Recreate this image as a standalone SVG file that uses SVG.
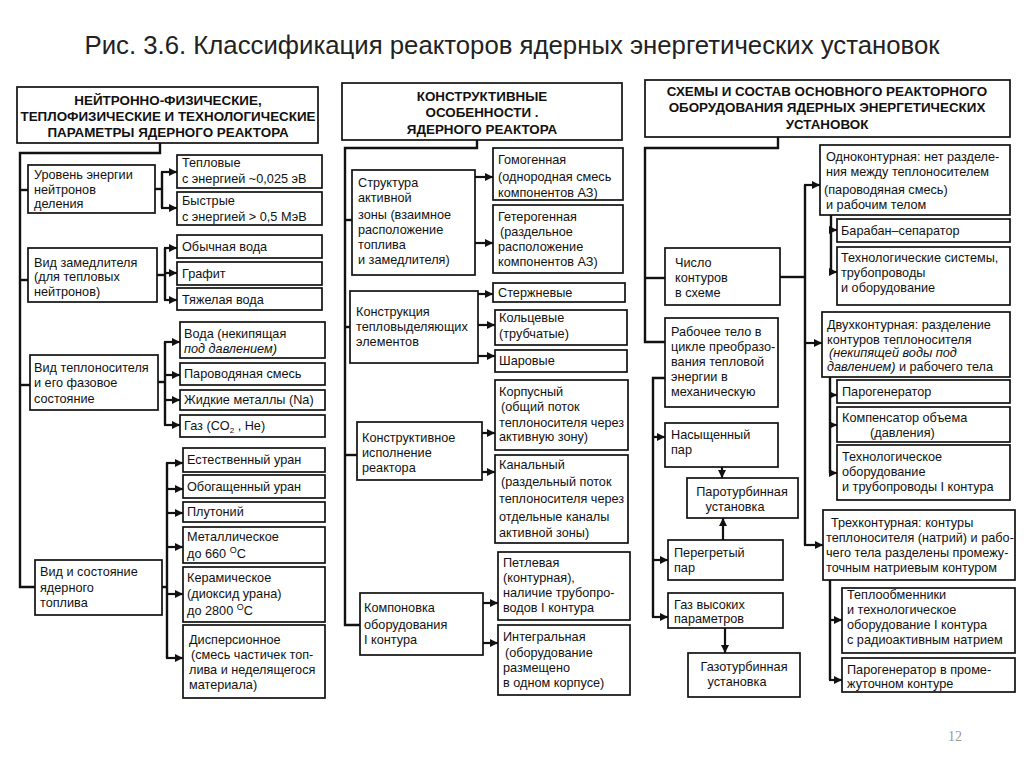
<svg xmlns="http://www.w3.org/2000/svg" width="1024" height="767" viewBox="0 0 1024 767">
<defs>
<marker id="ar" markerUnits="userSpaceOnUse" markerWidth="9" markerHeight="8" refX="8" refY="4" orient="auto">
<path d="M0,0 L8,4 L0,8 z" fill="#111"/>
</marker>
<style>
.b{fill:#fff;stroke:#111;stroke-width:1.7}
.t{font-family:"Liberation Sans",Arial,sans-serif;font-size:12.7px;fill:#111}
.h{font-family:"Liberation Sans",Arial,sans-serif;font-size:13.4px;font-weight:bold;fill:#111;text-anchor:middle}
.c{fill:none;stroke:#111;stroke-width:2.4}
.a{fill:none;stroke:#111;stroke-width:2.2;marker-end:url(#ar)}
.m{text-anchor:middle}
</style>
</defs>
<rect width="1024" height="767" fill="#fff"/>
<text x="512" y="54" text-anchor="middle" font-family="'Liberation Sans',Arial,sans-serif" font-size="25" fill="#222" textLength="855" lengthAdjust="spacingAndGlyphs">Рис. 3.6. Классификация реакторов ядерных энергетических установок</text>
<text x="948" y="741" font-family="'Liberation Serif',serif" font-size="14" fill="#999">12</text>

<g id="connectors">
<polyline class="c" points="160,143 160,153 20,153 20,587 35,587"/>
<line class="c" x1="20" y1="190" x2="28" y2="190"/>
<line class="c" x1="20" y1="280" x2="28" y2="280"/>
<line class="c" x1="20" y1="385" x2="30" y2="385"/>
<polyline class="c" points="155,189 162,189"/>
<line class="c" x1="162" y1="172" x2="162" y2="208"/>
<line class="a" x1="161" y1="172" x2="177" y2="172"/>
<line class="a" x1="161" y1="208" x2="177" y2="208"/>
<line class="c" x1="157" y1="275" x2="165" y2="275"/>
<line class="c" x1="165" y1="248" x2="165" y2="300"/>
<line class="a" x1="164" y1="248" x2="177" y2="248"/>
<line class="a" x1="164" y1="273" x2="177" y2="273"/>
<line class="a" x1="164" y1="300" x2="177" y2="300"/>
<line class="c" x1="158" y1="382" x2="165" y2="382"/>
<line class="c" x1="165" y1="342" x2="165" y2="425"/>
<line class="a" x1="164" y1="342" x2="180" y2="342"/>
<line class="a" x1="164" y1="375" x2="180" y2="375"/>
<line class="a" x1="164" y1="400" x2="180" y2="400"/>
<line class="a" x1="164" y1="425" x2="180" y2="425"/>
<line class="c" x1="162" y1="587" x2="167" y2="587"/>
<line class="c" x1="167" y1="463" x2="167" y2="658"/>
<line class="a" x1="166" y1="463" x2="183" y2="463"/>
<line class="a" x1="166" y1="489" x2="183" y2="489"/>
<line class="a" x1="166" y1="513" x2="183" y2="513"/>
<line class="a" x1="166" y1="547" x2="183" y2="547"/>
<line class="a" x1="166" y1="594" x2="183" y2="594"/>
<line class="a" x1="166" y1="658" x2="183" y2="658"/>

<polyline class="c" points="477,140 477,148 345,148 345,625 360,625"/>
<line class="c" x1="345" y1="220" x2="352" y2="220"/>
<line class="c" x1="345" y1="327" x2="350" y2="327"/>
<line class="c" x1="345" y1="455" x2="357" y2="455"/>
<line class="a" x1="475" y1="177" x2="493" y2="177"/>
<line class="a" x1="475" y1="243" x2="493" y2="243"/>
<line class="a" x1="478" y1="294" x2="493" y2="294"/>
<line class="a" x1="478" y1="325" x2="495" y2="325"/>
<line class="a" x1="478" y1="356" x2="495" y2="356"/>
<line class="a" x1="482" y1="433" x2="495" y2="433"/>
<line class="a" x1="482" y1="472" x2="495" y2="472"/>
<line class="a" x1="483" y1="603" x2="498" y2="603"/>
<line class="a" x1="483" y1="643" x2="498" y2="643"/>

<polyline class="c" points="778,137 778,148 645,148 645,342 665,342"/>
<line class="c" x1="645" y1="278" x2="665" y2="278"/>
<line class="c" x1="780" y1="277" x2="805" y2="277"/>
<line class="c" x1="805" y1="185" x2="805" y2="545"/>
<line class="a" x1="804" y1="185" x2="820" y2="185"/>
<line class="a" x1="804" y1="343" x2="822" y2="343"/>
<line class="a" x1="804" y1="545" x2="823" y2="545"/>
<line class="c" x1="831" y1="215" x2="831" y2="272"/>
<line class="a" x1="830" y1="230" x2="837" y2="230"/>
<line class="a" x1="830" y1="272" x2="837" y2="272"/>
<line class="c" x1="830" y1="377" x2="830" y2="473"/>
<line class="a" x1="829" y1="395" x2="837" y2="395"/>
<line class="a" x1="829" y1="425" x2="837" y2="425"/>
<line class="a" x1="829" y1="473" x2="837" y2="473"/>
<line class="c" x1="830" y1="580" x2="830" y2="680"/>
<line class="a" x1="829" y1="620" x2="842" y2="620"/>
<line class="a" x1="829" y1="680" x2="842" y2="680"/>
<polyline class="c" points="665,378 653,378 653,617"/>
<line class="a" x1="652" y1="437" x2="665" y2="437"/>
<line class="a" x1="652" y1="560" x2="668" y2="560"/>
<line class="a" x1="652" y1="617" x2="668" y2="617"/>
<line class="a" x1="722" y1="467" x2="722" y2="478"/>
<line class="a" x1="723" y1="540" x2="723" y2="518"/>
<line class="a" x1="725" y1="628" x2="725" y2="653"/>
</g>

<g id="hdr-left"><rect class="b" x="17" y="87" width="301" height="56"/>
<text class="h" x="168" y="105">НЕЙТРОННО-ФИЗИЧЕСКИЕ,</text>
<text class="h" x="168" y="121">ТЕПЛОФИЗИЧЕСКИЕ И ТЕХНОЛОГИЧЕСКИЕ</text>
<text class="h" x="168" y="137">ПАРАМЕТРЫ ЯДЕРНОГО РЕАКТОРА</text></g>

<g id="l1"><rect class="b" x="28" y="165" width="127" height="48"/>
<text class="t" x="34" y="179">Уровень энергии</text><text class="t" x="34" y="194">нейтронов</text><text class="t" x="34" y="208">деления</text></g>
<g id="l1a"><rect class="b" x="177" y="155" width="145" height="33"/>
<text class="t" x="182" y="167">Тепловые</text><text class="t" x="182" y="183">с энергией ~0,025 эВ</text></g>
<g id="l1b"><rect class="b" x="177" y="192" width="145" height="33"/>
<text class="t" x="182" y="205">Быстрые</text><text class="t" x="182" y="221">с энергией &gt; 0,5 МэВ</text></g>

<g id="l2"><rect class="b" x="28" y="248" width="129" height="54"/>
<text class="t" x="34" y="267">Вид замедлителя</text><text class="t" x="34" y="281">(для тепловых</text><text class="t" x="34" y="296">нейтронов)</text></g>
<g id="l2a"><rect class="b" x="177" y="235" width="145" height="23"/><text class="t" x="182" y="251">Обычная вода</text></g>
<g id="l2b"><rect class="b" x="177" y="262" width="145" height="23"/><text class="t" x="182" y="278">Графит</text></g>
<g id="l2c"><rect class="b" x="177" y="288" width="145" height="22"/><text class="t" x="182" y="304">Тяжелая вода</text></g>

<g id="l3"><rect class="b" x="30" y="355" width="128" height="55"/>
<text class="t" x="34" y="372">Вид теплоносителя</text><text class="t" x="34" y="387">и его фазовое</text><text class="t" x="34" y="403">состояние</text></g>
<g id="l3a"><rect class="b" x="180" y="322" width="145" height="36"/>
<text class="t" x="184" y="338">Вода  (некипящая</text><text class="t" x="184" y="353" font-style="italic">под давлением)</text></g>
<g id="l3b"><rect class="b" x="180" y="363" width="145" height="22"/><text class="t" x="184" y="378">Пароводяная смесь</text></g>
<g id="l3c"><rect class="b" x="180" y="390" width="145" height="20"/><text class="t" x="184" y="404">Жидкие металлы  (Na)</text></g>
<g id="l3d"><rect class="b" x="180" y="415" width="145" height="22"/><text class="t" x="184" y="430">Газ  (CO<tspan font-size="8" dy="3">2</tspan><tspan dy="-3"> , He)</tspan></text></g>

<g id="l4"><rect class="b" x="35" y="560" width="127" height="55"/>
<text class="t" x="40" y="576">Вид и состояние</text><text class="t" x="40" y="592">ядерного</text><text class="t" x="40" y="607">топлива</text></g>
<g id="l4a"><rect class="b" x="183" y="448" width="142" height="24"/><text class="t" x="187" y="464">Естественный уран</text></g>
<g id="l4b"><rect class="b" x="183" y="475" width="142" height="23"/><text class="t" x="187" y="491">Обогащенный уран</text></g>
<g id="l4c"><rect class="b" x="183" y="502" width="142" height="20"/><text class="t" x="187" y="516">Плутоний</text></g>
<g id="l4d"><rect class="b" x="183" y="527" width="142" height="36"/>
<text class="t" x="187" y="541">Металлическое</text><text class="t" x="187" y="558">до 660 <tspan font-size="9" dy="-5">O</tspan><tspan dy="5">C</tspan></text></g>
<g id="l4e"><rect class="b" x="183" y="567" width="142" height="55"/>
<text class="t" x="187" y="582">Керамическое</text><text class="t" x="187" y="598">(диоксид урана)</text><text class="t" x="187" y="615">до 2800 <tspan font-size="9" dy="-5">O</tspan><tspan dy="5">C</tspan></text></g>
<g id="l4f"><rect class="b" x="183" y="625" width="142" height="73"/>
<text class="t" x="189" y="644">Дисперсионное</text><text class="t" x="191" y="659">(смесь частичек топ-</text><text class="t" x="189" y="674">лива и неделящегося</text><text class="t" x="189" y="689">материала)</text></g>

<g id="hdr-mid"><rect class="b" x="342" y="83" width="280" height="57"/>
<text class="h" x="482" y="101">КОНСТРУКТИВНЫЕ</text>
<text class="h" x="482" y="117">ОСОБЕННОСТИ .</text>
<text class="h" x="482" y="134">ЯДЕРНОГО РЕАКТОРА</text></g>

<g id="m1"><rect class="b" x="352" y="170" width="123" height="105"/>
<text class="t" x="358" y="187">Структура</text><text class="t" x="358" y="202">активной</text><text class="t" x="358" y="219">зоны  (взаимное</text><text class="t" x="358" y="234">расположение</text><text class="t" x="358" y="249">топлива</text><text class="t" x="358" y="264">и замедлителя)</text></g>
<g id="m1a"><rect class="b" x="493" y="148" width="130" height="52"/>
<text class="t" x="498" y="164">Гомогенная</text><text class="t" x="498" y="181">(однородная смесь</text><text class="t" x="498" y="197">компонентов АЗ)</text></g>
<g id="m1b"><rect class="b" x="493" y="205" width="130" height="68"/>
<text class="t" x="498" y="221">Гетерогенная</text><text class="t" x="500" y="236">(раздельное</text><text class="t" x="498" y="251">расположение</text><text class="t" x="498" y="266">компонентов АЗ)</text></g>

<g id="m2"><rect class="b" x="350" y="291" width="128" height="72"/>
<text class="t" x="356" y="316">Конструкция</text><text class="t" x="356" y="331">тепловыделяющих</text><text class="t" x="356" y="346">элементов</text></g>
<g id="m2a"><rect class="b" x="493" y="283" width="132" height="19"/><text class="t" x="498" y="297">Стержневые</text></g>
<g id="m2b"><rect class="b" x="495" y="310" width="132" height="35"/>
<text class="t" x="499" y="322">Кольцевые</text><text class="t" x="499" y="338">(трубчатые)</text></g>
<g id="m2c"><rect class="b" x="495" y="350" width="132" height="22"/><text class="t" x="499" y="365">Шаровые</text></g>

<g id="m3"><rect class="b" x="357" y="422" width="125" height="58"/>
<text class="t" x="362" y="442">Конструктивное</text><text class="t" x="362" y="457">исполнение</text><text class="t" x="362" y="472">реактора</text></g>
<g id="m3a"><rect class="b" x="495" y="380" width="133" height="70"/>
<text class="t" x="499" y="396">Корпусный</text><text class="t" x="501" y="411">(общий поток</text><text class="t" x="499" y="427">теплоносителя через</text><text class="t" x="499" y="441">активную зону)</text></g>
<g id="m3b"><rect class="b" x="495" y="455" width="133" height="88"/>
<text class="t" x="499" y="469">Канальный</text><text class="t" x="501" y="486">(раздельный поток</text><text class="t" x="499" y="503">теплоносителя через</text><text class="t" x="499" y="521">отдельные  каналы</text><text class="t" x="499" y="537">активной зоны)</text></g>

<g id="m4"><rect class="b" x="360" y="593" width="123" height="62"/>
<text class="t" x="364" y="612">Компоновка</text><text class="t" x="364" y="629">оборудования</text><text class="t" x="364" y="644">I контура</text></g>
<g id="m4a"><rect class="b" x="498" y="552" width="132" height="68"/>
<text class="t" x="503" y="567">Петлевая</text><text class="t" x="503" y="582">(контурная),</text><text class="t" x="503" y="597">наличие трубопро-</text><text class="t" x="503" y="612">водов I контура</text></g>
<g id="m4b"><rect class="b" x="498" y="625" width="132" height="70"/>
<text class="t" x="503" y="641">Интегральная</text><text class="t" x="505" y="657">(оборудование</text><text class="t" x="503" y="672">размещено</text><text class="t" x="503" y="687">в одном корпусе)</text></g>

<g id="hdr-right"><rect class="b" x="645" y="80" width="365" height="57"/>
<text class="h" x="827" y="96">СХЕМЫ И СОСТАВ ОСНОВНОГО РЕАКТОРНОГО</text>
<text class="h" x="827" y="112">ОБОРУДОВАНИЯ ЯДЕРНЫХ ЭНЕРГЕТИЧЕСКИХ</text>
<text class="h" x="827" y="129">УСТАНОВОК</text></g>

<g id="r1"><rect class="b" x="665" y="248" width="115" height="57"/>
<text class="t" x="675" y="267">Число</text><text class="t" x="675" y="282">контуров</text><text class="t" x="675" y="297">в схеме</text></g>
<g id="r1a"><rect class="b" x="820" y="145" width="190" height="70"/>
<text class="t" x="826" y="161">Одноконтурная: нет разделе-</text><text class="t" x="826" y="176">ния  между  теплоносителем</text><text class="t" x="824" y="194">(пароводяная  смесь)</text><text class="t" x="826" y="209">и рабочим  телом</text></g>
<g id="r1a1"><rect class="b" x="837" y="219" width="173" height="23"/><text class="t" x="841" y="235">Барабан–сепаратор</text></g>
<g id="r1a2"><rect class="b" x="837" y="247" width="173" height="58"/>
<text class="t" x="841" y="262">Технологические  системы,</text><text class="t" x="841" y="277">трубопроводы</text><text class="t" x="841" y="292">и оборудование</text></g>

<g id="r1b"><rect class="b" x="822" y="312" width="188" height="65"/>
<text class="t" x="827" y="329">Двухконтурная: разделение</text><text class="t" x="827" y="344">контуров теплоносителя</text><text class="t" x="829" y="357" font-style="italic">(некипящей воды под</text><text class="t" x="827" y="371"><tspan font-style="italic">давлением)</tspan>  и рабочего тела</text></g>
<g id="r1b1"><rect class="b" x="837" y="380" width="173" height="23"/><text class="t" x="842" y="396">Парогенератор</text></g>
<g id="r1b2"><rect class="b" x="837" y="407" width="173" height="35"/>
<text class="t" x="842" y="422">Компенсатор объема</text><text class="t" x="870" y="437">(давления)</text></g>
<g id="r1b3"><rect class="b" x="837" y="445" width="173" height="55"/>
<text class="t" x="842" y="461">Технологическое</text><text class="t" x="842" y="476">оборудование</text><text class="t" x="842" y="491">и трубопроводы I контура</text></g>

<g id="r1c"><rect class="b" x="823" y="510" width="192" height="70"/>
<text class="t" x="831" y="527">Трехконтурная: контуры</text><text class="t" x="826" y="542">теплоносителя (натрий) и рабо-</text><text class="t" x="826" y="557">чего тела разделены промежу-</text><text class="t" x="826" y="572">точным натриевым контуром</text></g>
<g id="r1c1"><rect class="b" x="842" y="588" width="173" height="65"/>
<text class="t" x="847" y="599">Теплообменники</text><text class="t" x="847" y="614">и технологическое</text><text class="t" x="847" y="629">оборудование I контура</text><text class="t" x="847" y="644">с радиоактивным натрием</text></g>
<g id="r1c2"><rect class="b" x="842" y="658" width="173" height="34"/>
<text class="t" x="847" y="674">Парогенератор в проме-</text><text class="t" x="847" y="688">жуточном контуре</text></g>

<g id="r2"><rect class="b" x="665" y="318" width="113" height="89"/>
<text class="t" x="671" y="336">Рабочее тело в</text><text class="t" x="671" y="351">цикле преобразо-</text><text class="t" x="671" y="366">вания тепловой</text><text class="t" x="671" y="381">энергии в</text><text class="t" x="671" y="396">механическую</text></g>
<g id="r2a"><rect class="b" x="665" y="423" width="113" height="44"/>
<text class="t" x="671" y="439">Насыщенный</text><text class="t" x="671" y="454">пар</text></g>
<g id="r2b"><rect class="b" x="687" y="478" width="111" height="40"/>
<text class="t m" x="742" y="496">Паротурбинная</text><text class="t m" x="735" y="511">установка</text></g>
<g id="r2c"><rect class="b" x="668" y="540" width="115" height="40"/>
<text class="t" x="674" y="557">Перегретый</text><text class="t" x="674" y="572">пар</text></g>
<g id="r2d"><rect class="b" x="668" y="593" width="115" height="35"/>
<text class="t" x="674" y="609">Газ высоких</text><text class="t" x="674" y="623">параметров</text></g>
<g id="r2e"><rect class="b" x="688" y="653" width="112" height="44"/>
<text class="t m" x="744" y="671">Газотурбинная</text><text class="t m" x="737" y="686">установка</text></g>
</svg>
